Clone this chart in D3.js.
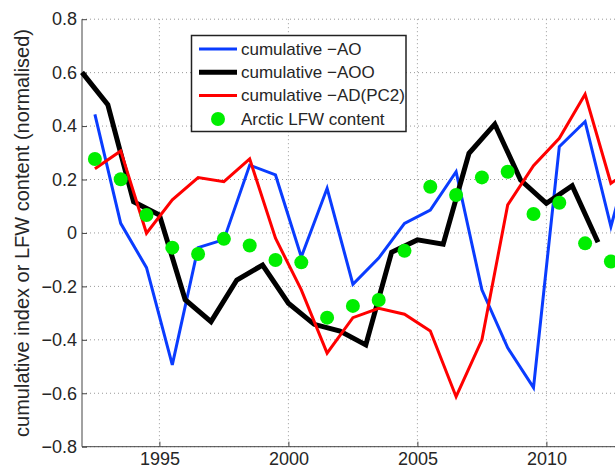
<!DOCTYPE html>
<html><head><meta charset="utf-8">
<script src="https://cdn.jsdelivr.net/npm/d3@7"></script>
<style>body{margin:0;background:#fff}svg{display:block}text{font-family:"Liberation Sans",Arial,sans-serif}</style>
</head><body>
<svg id="c" width="615" height="465"></svg>
<script>
const halfYears = d3.range(1992.5, 2013.6, 1);
const intYears = d3.range(1992, 2013, 1);
const blueAO = [0.444,0.036,-0.13,-0.494,-0.055,-0.025,0.254,0.217,-0.09,0.167,-0.192,-0.094,0.036,0.086,0.229,-0.213,-0.43,-0.579,0.323,0.417,0.024,0.38];
const blackAOO = [0.601,0.48,0.117,0.067,-0.25,-0.332,-0.176,-0.12,-0.263,-0.342,-0.367,-0.419,-0.072,-0.026,-0.042,0.298,0.407,0.198,0.111,0.177,-0.035];
const redAD = [0.24,0.307,-0.001,0.124,0.207,0.192,0.277,-0.02,-0.213,-0.45,-0.317,-0.282,-0.304,-0.367,-0.613,-0.40,0.105,0.252,0.354,0.519,0.186,0.25];
const greenLFW = [0.277,0.201,0.067,-0.055,-0.079,-0.022,-0.047,-0.101,-0.11,-0.317,-0.273,-0.251,-0.067,0.173,0.142,0.208,0.229,0.071,0.113,-0.039,-0.107];
const yTicks = [-0.8,-0.6,-0.4,-0.2,0,0.2,0.4,0.6,0.8];
const xTicks = [1995,2000,2005,2010];
const legendLabels = ["cumulative \u2212AO","cumulative \u2212AOO","cumulative \u2212AD(PC2)","Arctic LFW content"];

const svg = d3.select("#c");
const L = 82, T = 19.2, B = 446.7;
const x = d3.scaleLinear().domain([1992, 2013]).range([L, L + 21*25.8]);
const y = d3.scaleLinear().domain([-0.8, 0.8]).range([B, T]);
const txt = "#262626";

// grid
svg.append("g").selectAll("line").data(yTicks).join("line")
  .attr("x1", L).attr("x2", 615).attr("y1", d=>y(d)).attr("y2", d=>y(d))
  .attr("stroke", "#999").attr("stroke-width", 1).attr("stroke-dasharray", "1,3");
svg.append("g").selectAll("line").data(xTicks).join("line")
  .attr("x1", d=>x(d)).attr("x2", d=>x(d)).attr("y1", T).attr("y2", B)
  .attr("stroke", "#999").attr("stroke-width", 1).attr("stroke-dasharray", "1,3");

// axes
const yAxis = d3.axisLeft(y).tickValues(yTicks).tickSize(-5).tickPadding(5)
  .tickFormat(d => d === 0 ? "0" : d3.format(".1f")(d).replace("-", "\u2212"));
const gy = svg.append("g").attr("transform", `translate(${L},0)`).call(yAxis);
const xAxis = d3.axisBottom(x).tickValues(xTicks).tickSize(-5).tickPadding(6).tickFormat(d3.format("d"));
const gx = svg.append("g").attr("transform", `translate(0,${B})`).call(xAxis);
[gy, gx].forEach(g => {
  g.select(".domain").attr("stroke", "#444");
  g.selectAll(".tick line").attr("stroke", "#444");
  g.selectAll("text").attr("fill", txt).style("font-size", "18px");
});
gy.select(".domain").attr("d", `M0,${T}V${B}`);
gx.select(".domain").attr("d", `M${L},0H615`);

// y label
svg.append("text").attr("transform", `translate(29,${(T+B)/2}) rotate(-90)`)
  .attr("text-anchor", "middle").attr("fill", txt).style("font-size", "20px")
  .text("cumulative index or LFW content (normalised)");

// lines
const plot = svg.append("g");
const line = (xs) => d3.line().x((d,i)=>x(xs[i])).y(d=>y(d));
plot.append("path").datum(blueAO).attr("d", line(halfYears)).attr("fill","none")
  .attr("stroke","#0a3cff").attr("stroke-width",3);
plot.append("path").datum(blackAOO).attr("d", line(intYears)).attr("fill","none")
  .attr("stroke","#000").attr("stroke-width",5);
plot.append("path").datum(redAD).attr("d", line(halfYears)).attr("fill","none")
  .attr("stroke","#ff0000").attr("stroke-width",3);
plot.selectAll("circle").data(greenLFW).join("circle")
  .attr("cx", (d,i)=>x(halfYears[i])).attr("cy", d=>y(d)).attr("r", 7)
  .attr("fill", "#00ee00");

// legend
const lg = svg.append("g");
lg.append("rect").attr("x", 191.5).attr("y", 35.5).attr("width", 214.5).attr("height", 96)
  .attr("fill", "#fff").attr("stroke", "#222").attr("stroke-width", 1.5);
const rowY = [49, 72.3, 95.5, 119];
const styles = [{c:"#0a3cff",w:3},{c:"#000",w:5},{c:"#ff0000",w:3}];
styles.forEach((s,i)=>{
  lg.append("line").attr("x1",199).attr("x2",237).attr("y1",rowY[i]).attr("y2",rowY[i])
    .attr("stroke",s.c).attr("stroke-width",s.w);
});
lg.append("circle").attr("cx",218).attr("cy",rowY[3]).attr("r",7).attr("fill","#00ee00");
legendLabels.forEach((t,i)=>{
  lg.append("text").attr("x",241).attr("y",rowY[i]).attr("dy","0.35em")
    .attr("fill",txt).style("font-size","17px").text(t);
});
</script>
</body></html>
